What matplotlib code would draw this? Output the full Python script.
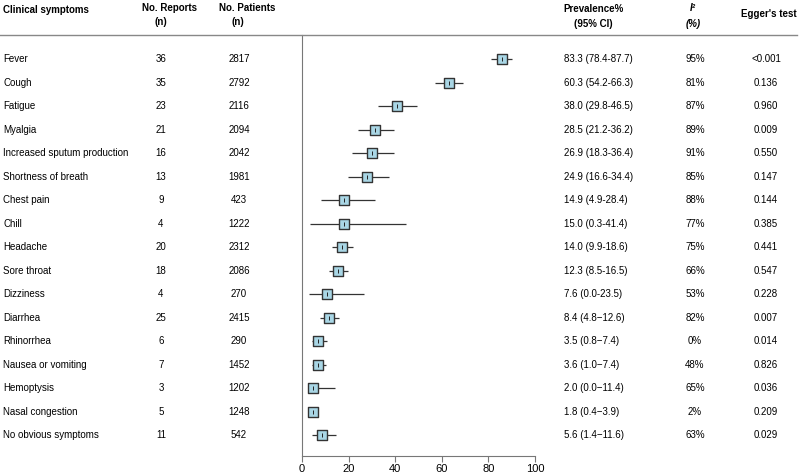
import numpy as np
import matplotlib.pyplot as plt
from matplotlib.transforms import blended_transform_factory

plt.rcParams['font.family'] = ['Liberation Sans', 'DejaVu Sans']

# ---- data ----
symptoms = ['Fever', 'Cough', 'Fatigue', 'Myalgia', 'Increased sputum production',
            'Shortness of breath', 'Chest pain', 'Chill', 'Headache', 'Sore throat',
            'Dizziness', 'Diarrhea', 'Rhinorrhea', 'Nausea or vomiting', 'Hemoptysis',
            'Nasal congestion', 'No obvious symptoms']
n_reports = [36, 35, 23, 21, 16, 13, 9, 4, 20, 18, 4, 25, 6, 7, 3, 5, 11]
n_patients = [2817, 2792, 2116, 2094, 2042, 1981, 423, 1222, 2312, 2086, 270, 2415,
              290, 1452, 1202, 1248, 542]
prev_text = ['83.3 (78.4-87.7)', '60.3 (54.2-66.3)', '38.0 (29.8-46.5)', '28.5 (21.2-36.2)',
             '26.9 (18.3-36.4)', '24.9 (16.6-34.4)', '14.9 (4.9-28.4)', '15.0 (0.3-41.4)',
             '14.0 (9.9-18.6)', '12.3 (8.5-16.5)', '7.6 (0.0-23.5)', '8.4 (4.8\u221212.6)',
             '3.5 (0.8\u22127.4)', '3.6 (1.0\u22127.4)', '2.0 (0.0\u221211.4)',
             '1.8 (0.4\u22123.9)', '5.6 (1.4\u221211.6)']
i2_text = ['95%', '81%', '87%', '89%', '91%', '85%', '88%', '77%', '75%', '66%',
           '53%', '82%', '0%', '48%', '65%', '2%', '63%']
egger_text = ['<0.001', '0.136', '0.960', '0.009', '0.550', '0.147', '0.144', '0.385',
              '0.441', '0.547', '0.228', '0.007', '0.014', '0.826', '0.036', '0.209', '0.029']

# marker positions as drawn in the plot
est = [85.8, 63.1, 40.8, 31.5, 29.9, 27.9, 17.9, 18.0, 17.0, 15.3, 10.7, 11.4,
       6.7, 6.7, 4.9, 4.9, 8.7]
lo = [81.1, 57.0, 32.6, 24.2, 21.3, 19.6, 8.0, 3.4, 12.9, 11.6, 2.9, 7.9,
      4.2, 4.3, 2.9, 3.4, 4.4]
hi = [90.1, 69.1, 49.5, 39.3, 39.5, 37.5, 31.5, 44.6, 21.7, 19.6, 26.5, 15.7,
      10.6, 10.5, 14.3, 7.0, 14.6]

W, H = 800, 475
fig = plt.figure(figsize=(8, 4.75), dpi=100)

# axis: x 302..535 px, y 35..456 px
ax = fig.add_axes([302 / W, 1 - 456 / H, 233 / W, 421 / H])
y = np.arange(len(symptoms))
row0, step = 59, 23.52
ax.set_ylim((456 - row0) / step, (35 - row0) / step)
ax.set_xlim(0, 100)

ax.hlines(y, lo, hi, color='#333333', lw=0.9, zorder=2)
ax.scatter(est, y, marker='s', s=42, facecolor='#a9d6e5', edgecolor='#333333',
           linewidth=1.0, zorder=3)
ax.scatter(est, y, marker='|', s=10, color='#222222', linewidth=0.7, zorder=4)

for s in ['top', 'right']:
    ax.spines[s].set_visible(False)
ax.spines['left'].set_color('#777777')
ax.spines['bottom'].set_color('#777777')
ax.set_yticks([])
ax.set_xticks([0, 20, 40, 60, 80, 100])
ax.tick_params(axis='x', colors='#777777', labelcolor='black', labelsize=8, length=4,
               pad=2)

# ---- table text ----
tr = blended_transform_factory(fig.transFigure, ax.transData)
fs = 7
for i in range(len(symptoms)):
    ax.text(3 / W, i, symptoms[i], transform=tr, fontsize=fs, va='center', ha='left', clip_on=False)
    ax.text(161 / W, i, str(n_reports[i]), transform=tr, fontsize=fs, va='center', ha='center', clip_on=False)
    ax.text(239 / W, i, str(n_patients[i]), transform=tr, fontsize=fs, va='center', ha='center', clip_on=False)
    ax.text(564 / W, i, prev_text[i], transform=tr, fontsize=fs, va='center', ha='left', clip_on=False)
    ax.text(695 / W, i, i2_text[i], transform=tr, fontsize=fs, va='center', ha='center', clip_on=False)
    ax.text(766 / W, i, egger_text[i], transform=tr, fontsize=fs, va='center', ha='center', clip_on=False)

def ftext(x, yy, s, **kw):
    fig.text(x / W, 1 - yy / H, s, fontsize=fs, va='center', **kw)

ftext(3, 10, 'Clinical symptoms', ha='left', fontweight='bold')
ftext(170, 8, 'No. Reports', ha='center', fontweight='bold')
ftext(161, 22, '(n)', ha='center', fontweight='bold')
ftext(247, 8, 'No. Patients', ha='center', fontweight='bold')
ftext(238, 22, '(n)', ha='center', fontweight='bold')
ftext(594, 9, 'Prevalence%', ha='center', fontweight='bold')
ftext(593, 24, '(95% CI)', ha='center', fontweight='bold')
ftext(693, 8, 'I\u00b2', ha='center', fontweight='bold', style='italic')
ftext(693, 24, '(%)', ha='center', fontweight='bold', style='italic')
ftext(769, 14, "Egger's test", ha='center', fontweight='bold')

fig.add_artist(plt.Line2D([0, 797 / W], [1 - 35 / H, 1 - 35 / H], color='#888888', lw=1.0))

fig.savefig('out.png', dpi=100)
